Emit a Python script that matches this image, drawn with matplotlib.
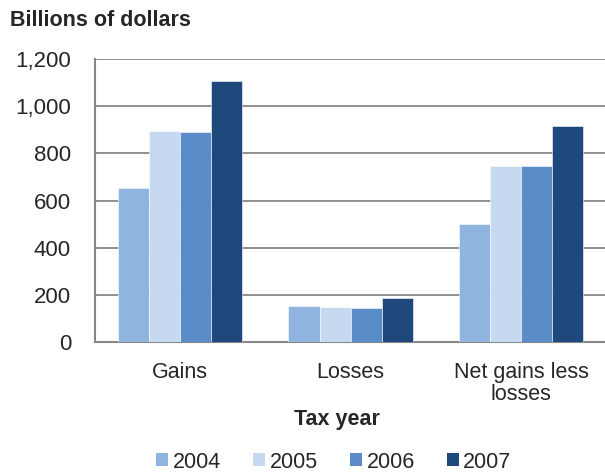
import numpy as np
import matplotlib.pyplot as plt
from matplotlib.patches import Patch

plt.rcParams['font.family'] = ['Liberation Sans', 'DejaVu Sans']

# Capital gains and losses by tax year, billions of dollars
categories = ["Gains", "Losses", "Net gains less\nlosses"]
years = ["2004", "2005", "2006", "2007"]
values_2004 = [655, 155, 500]
values_2005 = [897, 151, 746]
values_2006 = [891, 146, 745]
values_2007 = [1106, 189, 917]
colors = ["#8FB4E0", "#C6D9F0", "#5A8DC8", "#1F497D"]

series = [values_2004, values_2005, values_2006, values_2007]

text_color = "#262626"
grid_color = "#878787"

fig = plt.figure(figsize=(6.05, 4.72), dpi=100)
ax = fig.add_axes([0.1565, 0.2748, 0.846, 0.6002])

x = np.arange(len(categories))
width = 0.182
for i, vals in enumerate(series):
    offset = (i - 1.5) * width
    ax.bar(x + offset, vals, width, color=colors[i], edgecolor="white",
           linewidth=0.4, zorder=3, label=years[i])

ax.set_xlim(-0.5, 2.5)
ax.set_ylim(0, 1200)
ax.set_yticks(np.arange(0, 1201, 200))
ax.set_yticklabels([f"{v:,}" for v in range(0, 1201, 200)])
ax.set_xticks(x)
ax.set_xticklabels(categories, linespacing=1.05)

ax.yaxis.grid(True, color=grid_color, linewidth=1.3, zorder=0)
ax.set_axisbelow(True)
for side in ["top", "right"]:
    ax.spines[side].set_visible(False)
for side in ["left", "bottom"]:
    ax.spines[side].set_color(grid_color)
    ax.spines[side].set_linewidth(1.5)

ax.tick_params(axis="y", length=0, pad=17, labelsize=16, labelcolor=text_color)
ax.tick_params(axis="x", length=0, pad=14, labelsize=15.5, labelcolor=text_color)

fig.text(10 / 605, 1 - 20 / 472, "Billions of dollars", fontsize=15.5,
         fontweight="bold", color=text_color, ha="left", va="center")
fig.text(337 / 605, 1 - 419 / 472, "Tax year", fontsize=15.5,
         fontweight="bold", color=text_color, ha="center", va="center")

handles = [Patch(facecolor=c, edgecolor="none") for c in colors]
fig.legend(handles, years, loc="center", ncol=4,
           bbox_to_anchor=(334 / 605, 1 - 462 / 472), frameon=False,
           fontsize=15.5, handlelength=0.56, handleheight=0.56,
           handletextpad=0.2, columnspacing=1.5, labelcolor=text_color)

fig.savefig("out.png", dpi=100)
